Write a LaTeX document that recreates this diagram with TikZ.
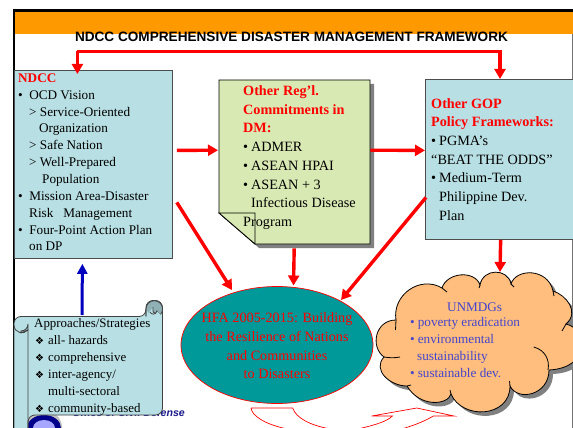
\documentclass[tikz,border=0pt]{standalone}
\usepackage{fontspec}
\setmainfont{Liberation Serif}
\newfontfamily\arialf{Liberation Sans}
\newfontfamily\symf{DejaVu Sans}
\usetikzlibrary{arrows.meta,shapes.geometric}
\definecolor{boxblue}{HTML}{B8DFE3}
\definecolor{boxgreen}{HTML}{D8E9B3}
\definecolor{bandorange}{HTML}{FF9900}
\definecolor{cloudorange}{HTML}{FFBE7D}
\definecolor{tealfill}{HTML}{009999}
\definecolor{cloudblue}{HTML}{4444CC}
\definecolor{curl}{HTML}{8FB0B5}
\definecolor{shadowgray}{HTML}{808080}
\definecolor{logoblue}{HTML}{1A1A8C}
\newcommand{\ind}[1]{\hspace*{#1pt}}
\newcommand{\dia}{{\symf\fontsize{10}{10}\selectfont ❖}}
\tikzset{
  ra/.style={draw=red,line width=3.4pt,-{Triangle[length=10pt,width=11pt]}},
  ba/.style={draw=blue!75!black,line width=3pt,-{Triangle[length=10pt,width=10pt]}},
  tbox/.style={rectangle,draw=black!70,line width=0.8pt,fill=boxblue,inner sep=0pt,anchor=north west},
  txt/.style={inner sep=0pt,anchor=north west,align=left,font=\fontsize{13.2}{16.85}\selectfont},
  txtb/.style={inner sep=0pt,anchor=north west,align=left,font=\fontsize{14.2}{18.7}\selectfont},
  outl/.style={draw=red,line width=0.7pt,fill=white},
}
\begin{document}
\begin{tikzpicture}[x=1pt,y=-1pt]
\useasboundingbox (0,0) rectangle (573,428);
\fill[white] (0,0) rectangle (573,428);
% frame and band
\fill[bandorange] (15,11) rectangle (573,34);
\draw[black!55,line width=0.8pt] (572.4,34) -- (572.4,428);
\draw[black,line width=2.5pt] (14,428) -- (14,10.5) -- (573,10.5);
\node[inner sep=0pt,font=\arialf\bfseries\fontsize{13.6}{16}\selectfont] (title) at (291.5,36.5) {NDCC COMPREHENSIVE DISASTER MANAGEMENT FRAMEWORK};
% boxes
\node[tbox,minimum width=158pt,minimum height=188pt] (ndcc) at (14,70) {};
\node[txt] (ndcctext) at (18,73.5) {{\color{red}\bfseries NDCC}\\
•\ind{6.5}OCD Vision\\
\ind{11}> Service-Oriented\\
\ind{21}Organization\\
\ind{11}> Safe Nation\\
\ind{11}> Well-Prepared\\
\ind{24}Population\\
•\ind{6.5}Mission Area-Disaster\\
\ind{11}Risk\ \ \ Management\\
•\ind{6.5}Four-Point Action Plan\\
\ind{11}on DP};
% green note
\fill[shadowgray] (223,84) -- (374,84) -- (374,248) -- (259,248) -- (223,217) -- cycle;
\filldraw[fill=boxgreen,draw=black,line width=0.8pt] (219,80) -- (370,80) -- (370,244) -- (255,244) -- (219,213) -- cycle;
\filldraw[fill=boxgreen,draw=black,line width=0.8pt] (219,213) -- (255,213) -- (255,244) -- cycle;
\node[minimum width=151pt,minimum height=164pt,inner sep=0pt,anchor=north west] (green) at (219,80) {};
\node[txtb] (greenhead) at (243,85.5) {{\color{red}\bfseries Other Reg’l.}\\
{\color{red}\bfseries Commitments in}\\
{\color{red}\bfseries DM:}\\
•\ind{3}ADMER\\
•\ind{3}ASEAN HPAI\\
•\ind{3}ASEAN + 3\\
\ind{8}Infectious Disease\\
\ind{0}Program};
% right box
\node[tbox,minimum width=147.5pt,minimum height=160pt] (gop) at (425,79) {};
\node[txtb] (goptext) at (431,98) {{\color{red}\bfseries Other GOP}\\
{\color{red}\bfseries Policy Frameworks:}\\
•\ind{3}PGMA’s\\
“BEAT THE ODDS”\\
•\ind{3}Medium-Term\\
\ind{8}Philippine Dev.\\
\ind{8}Plan};
% ellipse
\node[ellipse,draw=red,line width=0.7pt,fill=tealfill,minimum width=192pt,minimum height=117pt,inner sep=0pt] (hfa) at (277,345) {};
\node[inner sep=0pt,align=center,text=red,font=\fontsize{14.2}{18.7}\selectfont] (hfatext) at (277,346) {HFA 2005-2015: Building\\the Resilience of Nations\\and Communities\\to Disasters};
% cloud
\def\cloudpath{(396,320) .. controls (392,295) and (420,275) .. (442,288)
 .. controls (447,272) and (475,270) .. (480,285)
 .. controls (483,268) and (508,268) .. (511,284)
 .. controls (516,268) and (548,268) .. (553,291)
 .. controls (566,295) and (580,312) .. (566,324)
 .. controls (590,330) and (590,368) .. (549,370)
 .. controls (549,395) and (518,402) .. (510,386)
 .. controls (510,418) and (462,420) .. (451,394)
 .. controls (448,405) and (420,408) .. (407,386)
 .. controls (390,386) and (372,370) .. (384,357)
 .. controls (370,347) and (375,320) .. (396,320) -- cycle}
\fill[shadowgray,shift={(4,4)}] \cloudpath;
\filldraw[fill=cloudorange,draw=black,line width=0.8pt] \cloudpath;
\draw[black,line width=0.8pt] (384,357) .. controls (390,358) and (395,358) .. (400,357)
 (396,320) -- (395.5,330) (442,288) -- (447,292) (480,285) -- (479,288) (511,284) -- (514,287)
 (553,291) -- (554,296) (566,324) -- (562,331)
 (533.7,347) .. controls (545,350) and (550,360) .. (548,370)
 (510,386) -- (509.5,381) (451,394) -- (450,390) (407,386) -- (411,385);
\coordinate (cloudtop) at (500,272);
\node[inner sep=0pt,font=\fontsize{13.2}{16}\selectfont,text=cloudblue] (unm) at (474.5,307) {UNMDGs};
\node[txt,text=cloudblue,font=\fontsize{13.2}{17.1}\selectfont] (unmtext) at (410,317) {•\ind{3}poverty eradication\\
•\ind{3}environmental\\
\ind{7}sustainability\\
•\ind{3}sustainable dev.};
% bottom outline arrows
\draw[draw=red,line width=0.7pt] (251,408) -- (292.7,408)
  .. controls (296,418) and (310,425) .. (328,428.5)
  (251,408) .. controls (252,416) and (265,424) .. (285,428.5);
\draw[draw=red,line width=0.7pt] (360,428.5) .. controls (375,425) and (388,421) .. (392.3,416)
  -- (371.7,416) -- (416.7,408) -- (454,416) -- (433.3,416)
  .. controls (425,421) and (415,425) .. (403.3,428.5);
% logo behind scroll
\fill[black!25] (62,428) .. controls (62,420) and (58,414) .. (50,412) -- (28,412) -- (28,428) -- cycle;
\fill[blue!55!black] (44,428) ellipse [x radius=17pt,y radius=13pt];
\fill[blue!35!white] (44,428) ellipse [x radius=11pt,y radius=8pt];
\node[inner sep=0pt,anchor=east,text=logoblue,font=\arialf\bfseries\itshape\fontsize{10.6}{12}\selectfont] (ocd) at (185,413) {Office of Civil Defense};
% scroll
\filldraw[fill=boxblue,draw=black!75,line width=0.8pt,rounded corners=7pt]
  (14,432) -- (14,316.5) -- (146,316.5) -- (146,300.5) -- (162.5,300.5) -- (162.5,415) -- (28,415) -- (28,432);
\filldraw[fill=curl,draw=black!75,line width=0.8pt] (146,316) -- (146,309) arc[start angle=180,end angle=-45,radius=8.3pt] -- (157,311) arc[start angle=0,end angle=-180,radius=2pt] -- (153,307);
\filldraw[fill=boxblue,draw=none] (146.5,316) -- (146.5,310) .. controls (148,315) and (155,316) .. (157,311) -- (162,316) -- cycle;
\draw[black!75,line width=0.8pt] (146,316.5) -- (146,309) (157,311) .. controls (156,315) and (151,315) .. (150,312);
\filldraw[fill=curl,draw=black!75,line width=0.8pt] (21,333) arc[start angle=90,end angle=-90,radius=0pt] -- (28,330) -- (28,324) arc[start angle=0,end angle=-90,radius=7pt] -- (21,333) -- cycle;
\draw[black!75,line width=0.8pt] (14,325) .. controls (14,333) and (24,335) .. (28,330) -- (28,432);
\node[txt,font=\fontsize{12.9}{16.9}\selectfont] (scrolltext) at (34,318.5) {Approaches/Strategies\\
\ind{1}\dia\ind{4}all- hazards\\
\ind{1}\dia\ind{4}comprehensive\\
\ind{1}\dia\ind{4}inter-agency/\\
\ind{14}multi-sectoral\\
\ind{1}\dia\ind{4}community-based};
% connectors
\draw[ra] ([xshift=-16pt,yshift=0pt]ndcc.north) ++(0,-19) -- ++(0,23);
\draw[red,line width=3.4pt] (77,51.5) -- (500,51.5);
\draw[ra] (500,50) -- (gop.north -| 500,79);
\draw[ra] ([xshift=4pt,yshift=14pt]ndcc.east) -- ([xshift=-1pt,yshift=12pt]green.west);
\draw[ra] ([yshift=12pt]green.east) -- ([yshift=9pt]gop.west);
\draw[ra] ([xshift=4pt,yshift=-38pt]ndcc.east) -- ([xshift=-45pt,yshift=55pt]hfa.center);
\draw[ra] ([yshift=-4pt,xshift=-0.5pt]green.south) -- ([xshift=16.5pt,yshift=59.5pt]hfa.center);
\draw[ra] ([xshift=1pt,yshift=-38pt]gop.west) -- ([xshift=64pt,yshift=45pt]hfa.center);
\draw[ra] ([xshift=1.5pt]gop.south) -- (cloudtop);
\draw[ba] (82,315) -- ([xshift=-11pt,yshift=-5pt]ndcc.south);
\end{tikzpicture}
\end{document}
